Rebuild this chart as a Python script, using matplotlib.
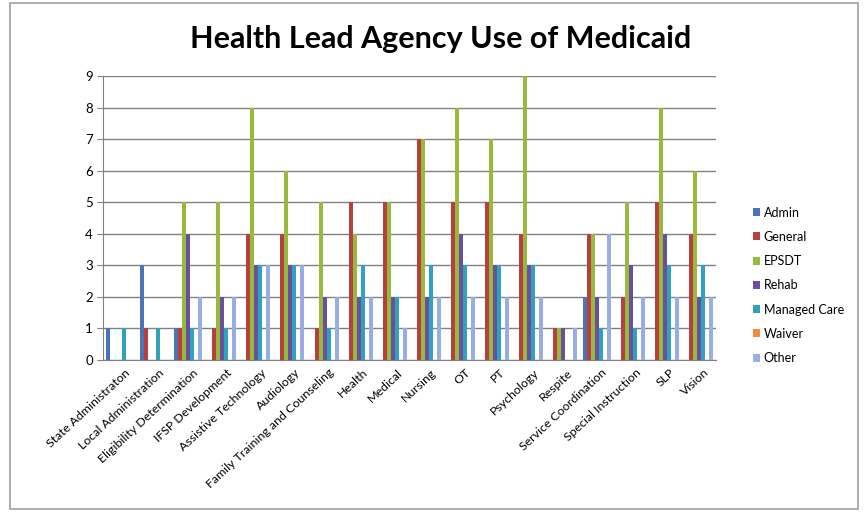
import matplotlib
matplotlib.use('Agg')
import matplotlib.pyplot as plt
import matplotlib.transforms as mtransforms
import numpy as np
from matplotlib.patches import Rectangle

plt.rcParams['font.family'] = ['Lato', 'DejaVu Sans']

categories = ['State Administraton', 'Local Administration', 'Eligibility Determination',
              'IFSP Development', 'Assistive Technology', 'Audiology',
              'Family Training and Counseling', 'Health', 'Medical', 'Nursing',
              'OT', 'PT', 'Psychology', 'Respite', 'Service Coordination',
              'Special Instruction', 'SLP', 'Vision']

admin = [1, 3, 1, 0, 0, 0, 0, 0, 0, 0, 0, 0, 0, 0, 2, 0, 0, 0]
general = [0, 1, 1, 1, 4, 4, 1, 5, 5, 7, 5, 5, 4, 1, 4, 2, 5, 4]
epsdt = [0, 0, 5, 5, 8, 6, 5, 4, 5, 7, 8, 7, 9, 1, 4, 5, 8, 6]
rehab = [0, 0, 4, 2, 3, 3, 2, 2, 2, 2, 4, 3, 3, 1, 2, 3, 4, 2]
managed_care = [1, 1, 1, 1, 3, 3, 1, 3, 2, 3, 3, 3, 3, 0, 1, 1, 3, 3]
waiver = [0, 0, 0, 0, 0, 0, 0, 0, 0, 0, 0, 0, 0, 0, 0, 0, 0, 0]
other = [0, 0, 2, 2, 3, 3, 2, 2, 1, 2, 2, 2, 2, 1, 4, 2, 2, 2]

series = [('Admin', admin, '#4a74b8'),
          ('General', general, '#b8403c'),
          ('EPSDT', epsdt, '#98b83e'),
          ('Rehab', rehab, '#6a4f9a'),
          ('Managed Care', managed_care, '#2fa3bd'),
          ('Waiver', waiver, '#f08c3a'),
          ('Other', other, '#98aee0')]

fig = plt.figure(figsize=(8.67, 5.14), dpi=100)
fig.patches.append(Rectangle((0.012, 0.01), 0.978, 0.985, transform=fig.transFigure,
                             fill=False, edgecolor='#a0a0a0', linewidth=1.2))
ax = fig.add_axes([0.119, 0.300, 0.707, 0.552])

x = np.arange(len(categories))
n = len(series)
width = 1.0 / (n + 1.5)
for i, (name, vals, color) in enumerate(series):
    offs = (i - (n - 1) / 2) * width
    ax.bar(x + offs, vals, width, color=color, label=name, zorder=3,
           edgecolor='none')

ax.set_xlim(-0.5, len(categories) - 0.5)
ax.set_ylim(0, 9)
ax.set_yticks(range(10))
ax.yaxis.grid(True, color='#808080', linewidth=1)
ax.set_axisbelow(True)
for s in ['top', 'right']:
    ax.spines[s].set_visible(False)
ax.spines['left'].set_color('#808080')
ax.spines['bottom'].set_color('#808080')
ax.tick_params(axis='y', length=4, color='#808080', labelsize=9.5)
ax.tick_params(axis='x', length=0, labelsize=8.9, pad=8)
ax.set_xticks(x)
ax.set_xticklabels(categories, rotation=43, ha='right', va='center',
                   rotation_mode='anchor')
# nudge the slanted labels right, like the original
shift = mtransforms.ScaledTranslation(8 / 100, 0, fig.dpi_scale_trans)
for lab in ax.get_xticklabels():
    lab.set_transform(lab.get_transform() + shift)

fig.text(0.508, 0.925, 'Health Lead Agency Use of Medicaid', ha='center', va='center',
         fontsize=22, fontweight='bold')

fig.legend(loc='upper left', bbox_to_anchor=(0.855, 0.62), frameon=False,
           fontsize=9, handlelength=0.6, handleheight=0.6, handletextpad=0.3,
           labelspacing=0.98)

plt.savefig('out.png', dpi=100)
